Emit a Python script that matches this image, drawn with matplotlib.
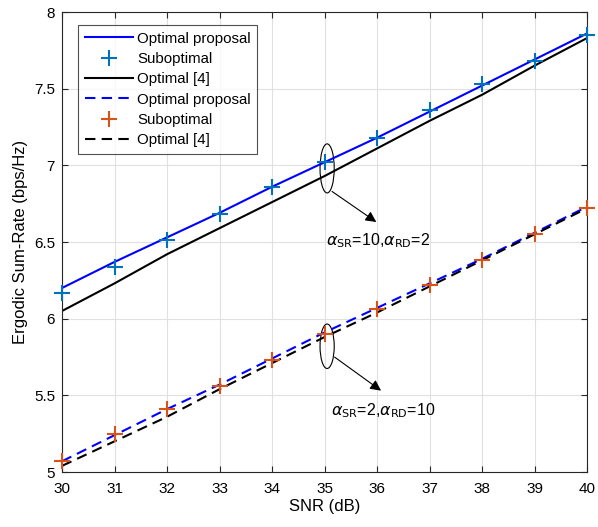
import matplotlib
matplotlib.use("Agg")
import matplotlib.pyplot as plt
from matplotlib.patches import Ellipse
import numpy as np

plt.rcParams['font.family'] = ['Liberation Sans', 'DejaVu Sans']
plt.rcParams['mathtext.fontset'] = 'dejavusans'

snr = [30, 31, 32, 33, 34, 35, 36, 37, 38, 39, 40]
# alpha_SR=10, alpha_RD=2
opt_prop_a = [6.20, 6.37, 6.53, 6.69, 6.86, 7.02, 7.18, 7.35, 7.52, 7.69, 7.86]
subopt_a = [6.17, 6.34, 6.51, 6.68, 6.86, 7.02, 7.18, 7.36, 7.53, 7.68, 7.85]
opt4_a = [6.05, 6.23, 6.42, 6.59, 6.76, 6.93, 7.11, 7.29, 7.46, 7.65, 7.83]
# alpha_SR=2, alpha_RD=10
opt_prop_b = [5.07, 5.24, 5.41, 5.57, 5.74, 5.91, 6.07, 6.23, 6.39, 6.56, 6.73]
subopt_b = [5.07, 5.25, 5.41, 5.56, 5.73, 5.90, 6.06, 6.22, 6.38, 6.55, 6.72]
opt4_b = [5.04, 5.20, 5.36, 5.54, 5.71, 5.88, 6.04, 6.21, 6.38, 6.55, 6.72]

fig = plt.figure(figsize=(5.98, 5.27), dpi=100)
ax = fig.add_axes([62/598, 55/527, 525/598, 460/527])

ax.plot(snr, opt_prop_a, '-', color='#0000FF', lw=1.5, label='Optimal proposal')
ax.plot(snr, subopt_a, '+', color='#0072BD', ms=11, mew=1.5, ls='none', label='Suboptimal', clip_on=False, zorder=5)
ax.plot(snr, opt4_a, '-', color='black', lw=1.5, label='Optimal [4]')
ax.plot(snr, opt_prop_b, '--', color='#0000FF', lw=1.5, dashes=(5, 3), label='Optimal proposal')
ax.plot(snr, subopt_b, '+', color='#D95319', ms=11, mew=1.5, ls='none', label='Suboptimal', clip_on=False, zorder=5)
ax.plot(snr, opt4_b, '--', color='black', lw=1.5, dashes=(5, 3), label='Optimal [4]')

ax.set_xlim(30, 40)
ax.set_ylim(5, 8)
ax.set_xticks(snr)
ax.set_yticks([5, 5.5, 6, 6.5, 7, 7.5, 8])
ax.set_yticklabels(['5', '5.5', '6', '6.5', '7', '7.5', '8'])
ax.grid(True, color='#E0E0E0', lw=0.8)
ax.set_axisbelow(True)
ax.tick_params(direction='in', top=True, right=True, labelsize=11, length=4, color='#262626')
ax.tick_params(axis='x', pad=7)
ax.tick_params(axis='y', pad=5)
for s in ax.spines.values():
    s.set_color('#262626')
    s.set_linewidth(0.8)
ax.set_xlabel('SNR (dB)', fontsize=12, labelpad=2)
ax.set_ylabel('Ergodic Sum-Rate (bps/Hz)', fontsize=12, labelpad=4)

# ellipses
ax.add_patch(Ellipse((35.05, 6.98), 0.27, 0.32, fill=False, ec='black', lw=0.8))
ax.add_patch(Ellipse((35.05, 5.82), 0.27, 0.29, fill=False, ec='black', lw=0.8))

ax.annotate('', xy=(36.03, 6.62), xytext=(35.1, 6.84),
            arrowprops=dict(arrowstyle='-|>', color='black', lw=0.8, mutation_scale=16))
ax.annotate('', xy=(36.12, 5.52), xytext=(35.15, 5.76),
            arrowprops=dict(arrowstyle='-|>', color='black', lw=0.8, mutation_scale=16))

ax.text(35.03, 6.51, r'$\alpha_{\rm SR}$=10,$\alpha_{\rm RD}$=2', fontsize=11.5, va='center', ha='left')
ax.text(35.12, 5.40, r'$\alpha_{\rm SR}$=2,$\alpha_{\rm RD}$=10', fontsize=11.5, va='center', ha='left')

leg = ax.legend(loc='upper left', bbox_to_anchor=(0.03, 0.972), borderaxespad=0,
                fontsize=10.8, frameon=True,
                fancybox=False, edgecolor='#262626', handlelength=3.2, labelspacing=0.42,
                borderpad=0.45, handletextpad=0.3)
leg.get_frame().set_linewidth(0.8)

fig.savefig('out.png', dpi=100)
